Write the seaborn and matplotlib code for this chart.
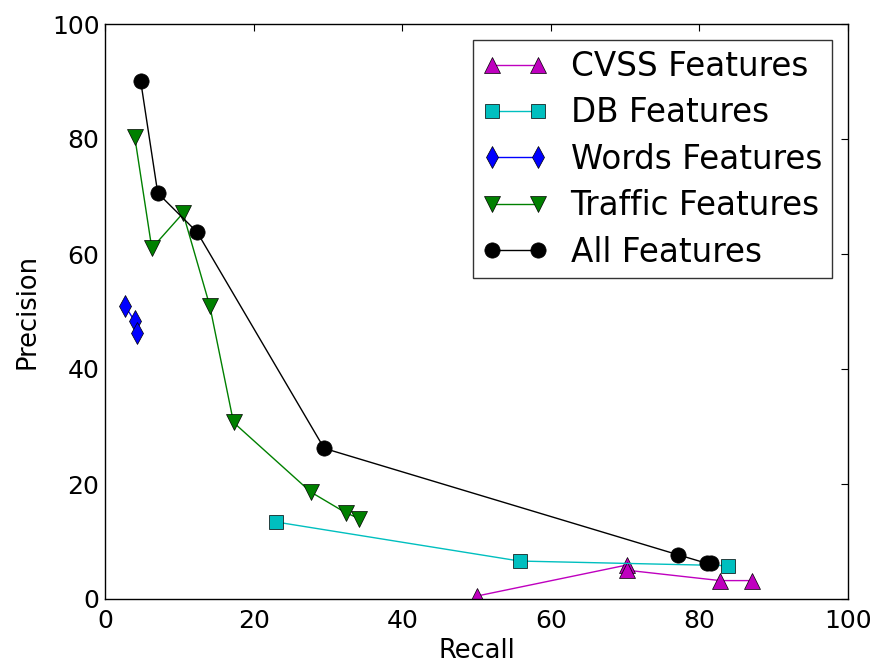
import matplotlib
matplotlib.use("Agg")
import matplotlib.pyplot as plt
import seaborn as sns
import pandas as pd

# Data (Recall, Precision) per feature set
cvss_recall = [50.0, 70.2, 70.3, 82.8, 87.1]
cvss_precision = [0.5, 5.9, 5.0, 3.2, 3.2]

db_recall = [23.0, 55.8, 83.8]
db_precision = [13.4, 6.6, 5.8]

words_recall = [2.7, 4.0, 4.3]
words_precision = [51.0, 48.3, 46.2]

traffic_recall = [4.0, 6.3, 10.5, 14.1, 17.3, 27.7, 32.4, 34.2]
traffic_precision = [80.4, 61.0, 67.1, 51.0, 30.7, 18.6, 15.0, 14.0]

all_recall = [4.8, 7.1, 12.4, 29.5, 77.1, 81.0, 81.6]
all_precision = [90.1, 70.6, 63.8, 26.2, 7.7, 6.2, 6.2]

labels = ["CVSS Features", "DB Features", "Words Features", "Traffic Features", "All Features"]

sns.set_style("white")
plt.rcParams['font.family'] = ['DejaVu Sans']
plt.rcParams['text.color'] = 'k'
plt.rcParams['axes.labelcolor'] = 'k'

fig = plt.figure(figsize=(8.88, 6.64), dpi=100)
ax = fig.add_axes([105/888, 1-599/664, (848-105)/888, (599-24)/664])

series = [
    (cvss_recall, cvss_precision, (0.75, 0, 0.75), '^', 11),
    (db_recall, db_precision, (0, 0.75, 0.75), 's', 10),
    (words_recall, words_precision, (0, 0, 1), 'd', 11),
    (traffic_recall, traffic_precision, (0, 0.5, 0), 'v', 11),
    (all_recall, all_precision, (0, 0, 0), 'o', 11),
]

for (xs, ys, col, mk, ms), lab in zip(series, labels):
    df = pd.DataFrame({"Recall": xs, "Precision": ys})
    sns.lineplot(data=df, x="Recall", y="Precision", sort=False, estimator=None,
                 color=col, marker=mk, markersize=ms, markeredgecolor='k',
                 markeredgewidth=0.5, linewidth=1.0, label=lab, ax=ax)

ax.set_xlim(0, 100)
ax.set_ylim(0, 100)
ax.set_xticks([0, 20, 40, 60, 80, 100])
ax.set_yticks([0, 20, 40, 60, 80, 100])
ax.tick_params(direction='in', length=5, width=0.8, top=True, right=True,
               labelsize=18, colors='k')
ax.tick_params(axis='x', pad=7)
ax.tick_params(axis='y', pad=4)
for s in ax.spines.values():
    s.set_color('k')
    s.set_linewidth(1.0)
ax.set_xlabel("Recall", fontsize=18.5, labelpad=4)
ax.set_ylabel("Precision", fontsize=18.5, labelpad=8)

leg = ax.legend(loc='upper right', fontsize=23.5, numpoints=2, frameon=True,
                fancybox=False, handlelength=2.0, borderpad=0.3, labelspacing=0.41,
                handletextpad=0.7, borderaxespad=0.5)
leg.get_frame().set_edgecolor('k')
leg.get_frame().set_linewidth(1.0)
for t in leg.get_texts():
    t.set_color('k')

fig.savefig("out.png", dpi=100, facecolor='white')
